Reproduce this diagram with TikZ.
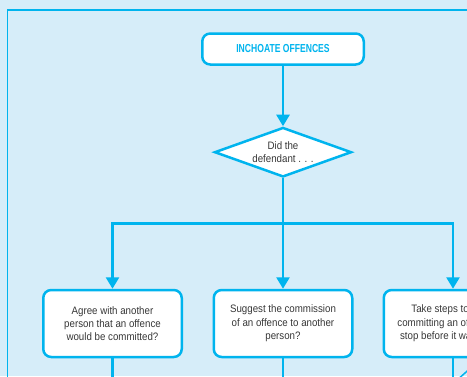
\documentclass[tikz,border=0pt]{standalone}
\usepackage{fontspec}
\setmainfont{Liberation Sans}[FakeStretch=0.9]
\newfontfamily\headfont{Liberation Sans}[FakeStretch=0.74]
\usetikzlibrary{arrows.meta, shapes.geometric, positioning}
\definecolor{inkblue}{RGB}{0,180,238}
\definecolor{paleblue}{RGB}{214,237,249}
\definecolor{textgray}{RGB}{55,55,55}

\begin{document}
\begin{tikzpicture}[x=1pt,y=-1pt,
  pipe/.style={draw=inkblue, line width=2.6pt},
  flow/.style={pipe, -{Triangle[length=11.5pt,width=13pt]}},
  qbox/.style={draw=inkblue, line width=2.5pt, fill=white, rounded corners=8pt,
    minimum width=138.5pt, minimum height=67pt, inner sep=0pt, align=center,
    text=textgray, font=\fontsize{10.8}{13.3}\selectfont},
  headbox/.style={qbox, minimum width=161.5pt, minimum height=31pt,
    text=inkblue, font=\headfont\bfseries\fontsize{11.6}{13}\selectfont},
  askbox/.style={diamond, draw=inkblue, line width=2.5pt, fill=white, aspect=2.8,
    minimum width=137pt, minimum height=49.5pt, inner sep=0pt, align=center,
    text=textgray, font=\fontsize{10.8}{13.3}\selectfont}]
\useasboundingbox (0,0) rectangle (467,376);
\clip (0,0) rectangle (467,376);
\fill[paleblue] (0,0) rectangle (467,376);
\draw[inkblue, line width=1.3pt] (7.3,400) |- (480,10);
\node[headbox] (head) at (283,49) {INCHOATE OFFENCES};
\node[askbox] (ask) at (283,152.2) {Did the\\defendant . . .};
\coordinate (fork) at (283,223.3);
\node[qbox] (agree) at (112.5,323.5) {Agree with another\\person that an offence\\would be committed?};
\node[qbox] (suggest) at (283,323.5) {Suggest the commission\\of an offence to another\\person?};
\node[qbox] (attempt) at (453,323.5) {Take steps towards\\committing an offence but\\stop before it was done?};
\coordinate (agree-out) at (112.5,395);
\coordinate (suggest-out) at (283,395);
\coordinate (attempt-out) at (453,395);
\coordinate (side-a) at (456,381);
\coordinate (side-b) at (474,365);
\draw[flow] (head) -- (ask);
\draw[pipe] (ask) -- (fork);
\draw[flow] (fork) -| (agree);
\draw[flow] (fork) -- (suggest);
\draw[flow] (fork) -| (attempt);
\draw[pipe] (agree) -- (agree-out);
\draw[pipe] (suggest) -- (suggest-out);
\draw[pipe] (attempt) -- (attempt-out);
\draw[inkblue, line width=1.5pt] (side-a) -- (side-b);
\end{tikzpicture}
\end{document}
